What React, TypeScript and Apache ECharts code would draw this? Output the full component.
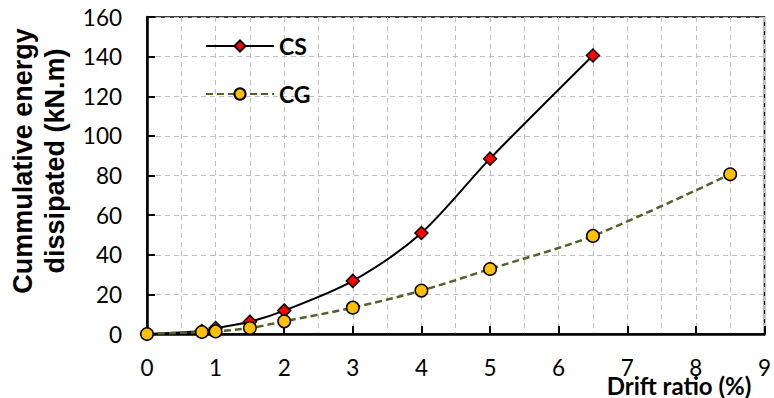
import React, { useEffect, useRef } from "react";
import * as echarts from "echarts";

const csDrift = [0, 0.8, 1, 1.5, 2, 3, 4, 5, 6.5];
const csEnergy = [0, 1.5, 3, 6.2, 11.8, 26.8, 51, 88.5, 140.6];
const cgDrift = [0, 0.8, 1, 1.5, 2, 3, 4, 5, 6.5, 8.5];
const cgEnergy = [0, 1.0, 1.3, 3.0, 6.4, 13.3, 21.9, 32.8, 49.5, 80.6];

const xTicks = { min: 0, max: 9, interval: 1 };
const yTicks = { min: 0, max: 160, interval: 20 };

const yTitle = "Cummulative energy\ndissipated (kN.m)";
const xTitle = "Drift ratio (%)";

export default function App() {
  const ref = useRef<HTMLDivElement>(null);
  useEffect(() => {
    if (!ref.current) return;
    const chart = echarts.init(ref.current, undefined, { renderer: "svg" });
    const gridLine = { show: true, lineStyle: { color: "#BFBFBF", width: 1, type: [5, 4] as any } };
    chart.setOption({
      animation: false,
      backgroundColor: "#fff",
      grid: {
        left: 147,
        right: 2,
        top: 17,
        bottom: 64,
        show: true,
        borderColor: "#000",
        borderWidth: 1.5,
        backgroundColor: "transparent",
      },
      legend: {
        orient: "vertical",
        left: 205,
        top: 34,
        padding: 0,
        itemWidth: 68,
        itemHeight: 14,
        itemGap: 24,
        textStyle: {
          fontFamily: "Lato",
          fontWeight: "bold",
          fontSize: 23,
          color: "#000",
          lineHeight: 24,
        },
        data: ["CS", "CG"],
      },
      xAxis: {
        type: "value",
        min: xTicks.min,
        max: xTicks.max,
        interval: xTicks.interval,
        axisLine: { show: true, lineStyle: { color: "#000", width: 2.5 } },
        axisTick: { show: true, inside: true, length: 8, lineStyle: { color: "#000", width: 2 } },
        axisLabel: { color: "#000", fontFamily: "Lato", fontSize: 22.5, margin: 22 },
        splitLine: gridLine,
        minorTick: { show: false, splitNumber: 2 },
        minorSplitLine: gridLine,
      },
      yAxis: {
        type: "value",
        min: yTicks.min,
        max: yTicks.max,
        interval: yTicks.interval,
        axisLine: { show: true, lineStyle: { color: "#000", width: 2.5 } },
        axisTick: { show: true, inside: true, length: 8, lineStyle: { color: "#000", width: 2 } },
        axisLabel: { color: "#000", fontFamily: "Lato", fontSize: 22.5, margin: 25 },
        splitLine: gridLine,
      },
      graphic: [
        {
          type: "text",
          x: 39,
          y: 161,
          rotation: Math.PI / 2,
          style: {
            text: yTitle,
            fontFamily: "Liberation Sans",
            fontWeight: "bold",
            fontSize: 27,
            lineHeight: 32,
            fill: "#000",
            textAlign: "center",
            textVerticalAlign: "middle",
          },
        },
        {
          type: "text",
          x: 679,
          y: 385,
          style: {
            text: xTitle,
            fontFamily: "Lato",
            fontWeight: "bold",
            fontSize: 24,
            fill: "#000",
            textAlign: "center",
            textVerticalAlign: "middle",
          },
        },
      ],
      series: [
        {
          name: "CS",
          type: "line",
          smooth: 0.3,
          data: csDrift.map((d, i) => [d, csEnergy[i]]),
          symbol: "diamond",
          symbolSize: 13,
          lineStyle: { color: "#000", width: 2 },
          itemStyle: { color: "#FF0000", borderColor: "#000", borderWidth: 1.5 },
        },
        {
          name: "CG",
          type: "line",
          smooth: 0.3,
          data: cgDrift.map((d, i) => [d, cgEnergy[i]]),
          symbol: "circle",
          symbolSize: 12.5,
          lineStyle: { color: "#4F6228", width: 2.5, type: [7, 4] },
          itemStyle: { color: "#FFC000", borderColor: "#000", borderWidth: 1.5 },
        },
      ],
    });
    return () => chart.dispose();
  }, []);
  return (
    <div
      ref={ref}
      style={{ position: "fixed", left: 0, top: 0, width: 774, height: 398 }}
    />
  );
}
